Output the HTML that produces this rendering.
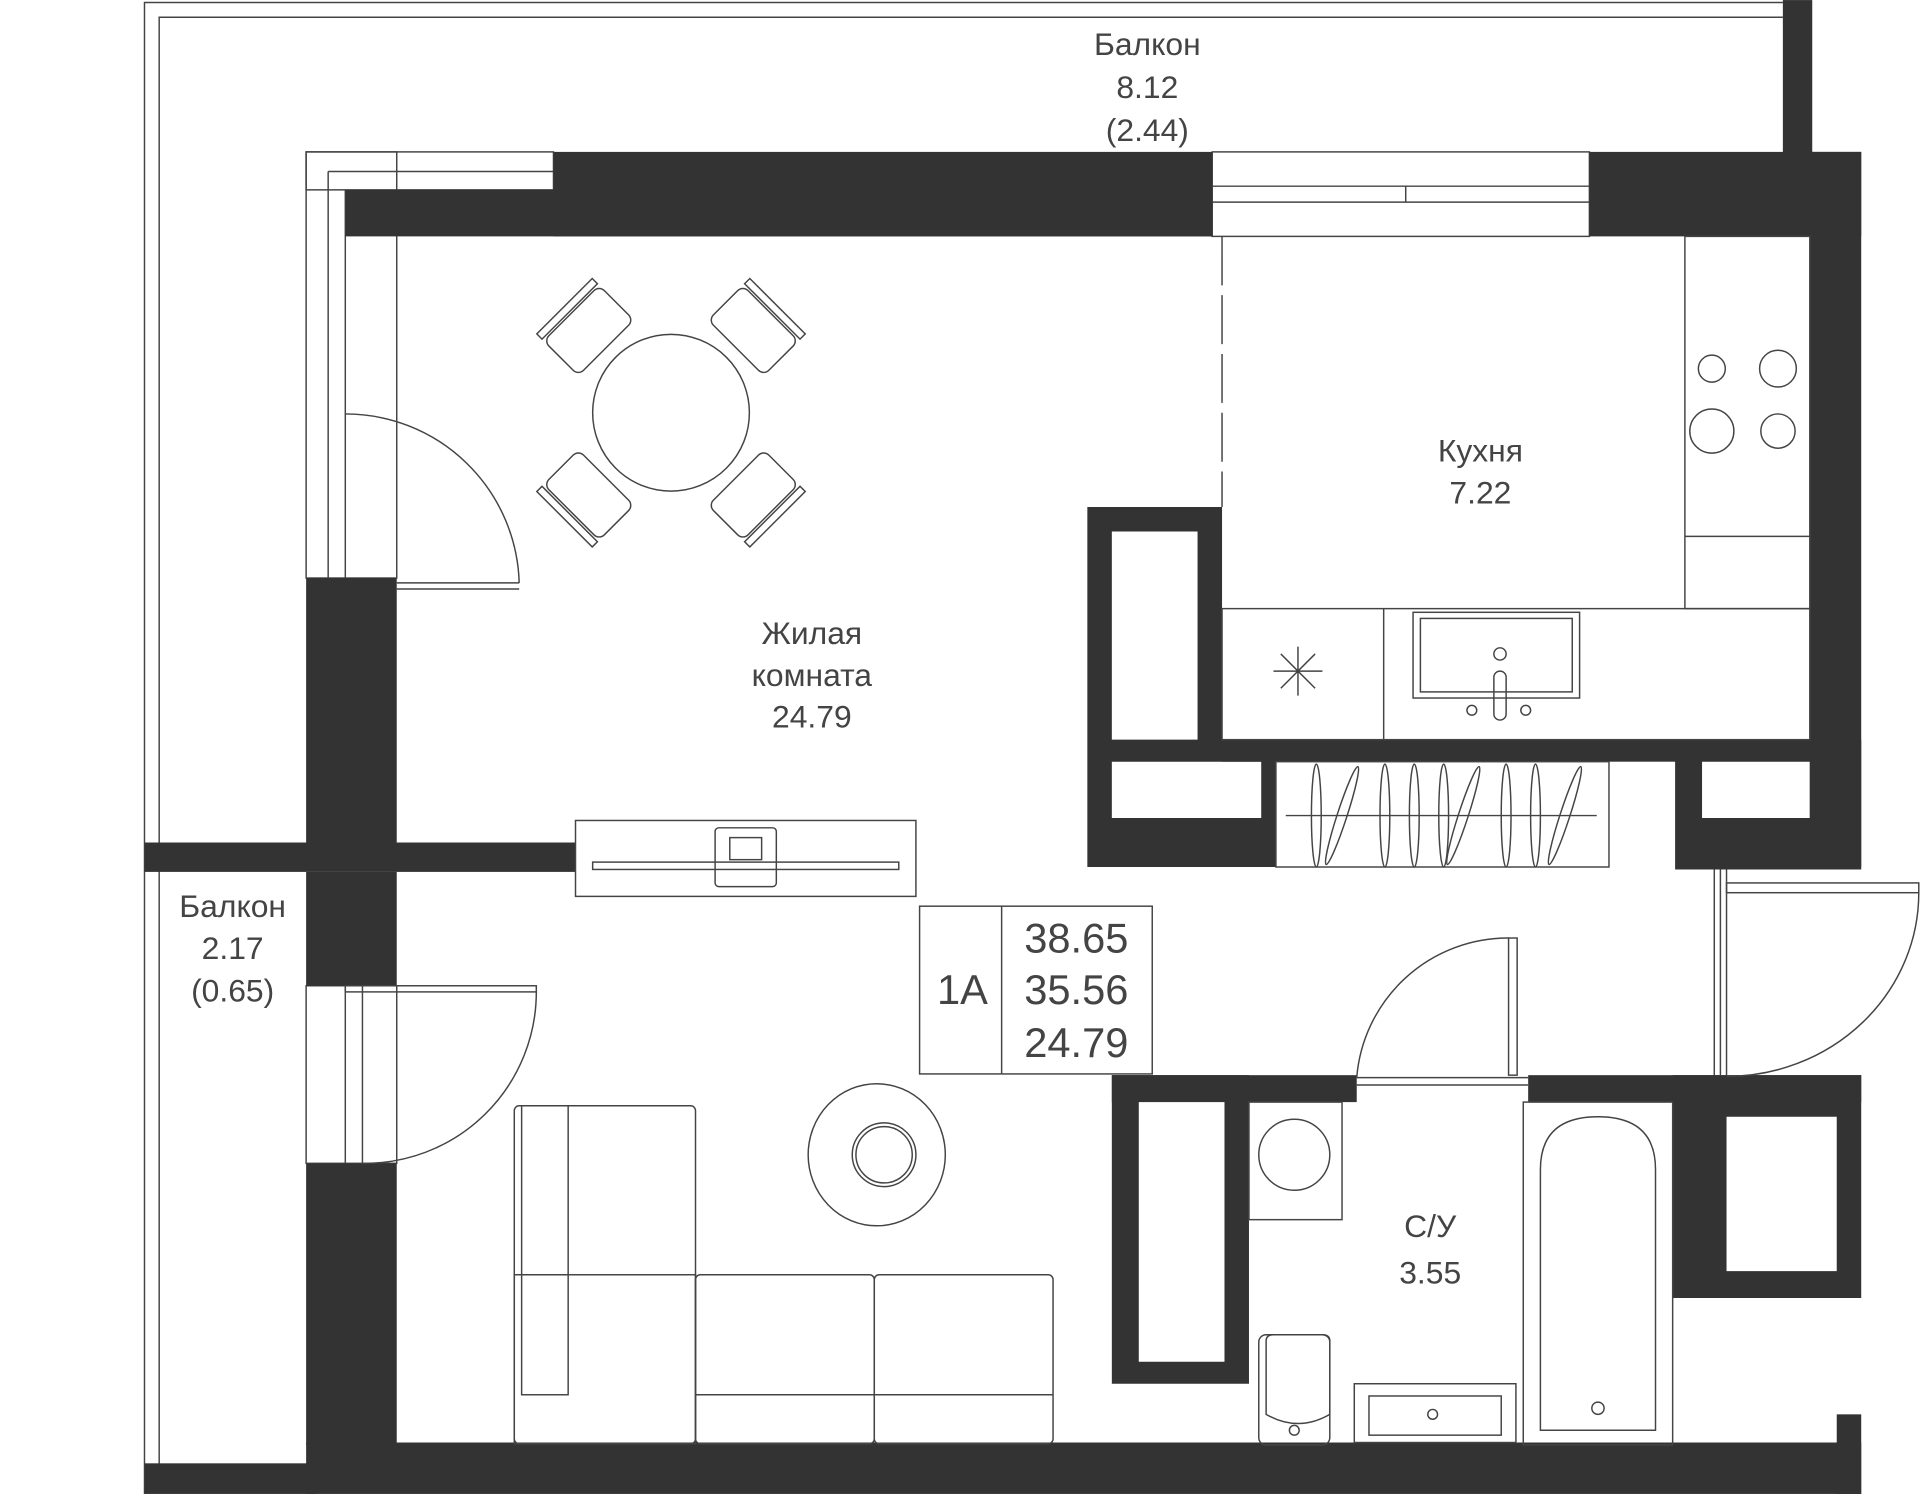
<!DOCTYPE html>
<html><head><meta charset="utf-8"><style>
html,body{margin:0;padding:0;background:#fff;}
svg{display:block;}
text{font-family:"Liberation Sans",sans-serif;fill:#444;}
</style></head><body>
<svg width="1920" height="1494" viewBox="0 0 1568 1220" xmlns="http://www.w3.org/2000/svg">
<g fill="none" stroke="#444" stroke-width="1.2">
<polyline points="118,1220 118,2 1456,2"/>
<polyline points="130,1200 130,14 1456,14"/>
<rect x="250" y="124" width="202" height="31"/>
<line x1="268" y1="140" x2="452" y2="140"/>
<rect x="250" y="124" width="74" height="348"/>
<line x1="268" y1="140" x2="268" y2="472"/>
<line x1="282" y1="155" x2="282" y2="472"/>
<rect x="990" y="124" width="308" height="69"/>
<line x1="990" y1="152" x2="1298" y2="152"/>
<line x1="990" y1="165" x2="1298" y2="165"/>
<line x1="1148" y1="152" x2="1148" y2="165"/>
<rect x="250" y="805" width="74" height="145"/>
<line x1="282" y1="805" x2="282" y2="950"/>
<line x1="296" y1="805" x2="296" y2="950"/>
</g>
<g fill="#333">
<rect x="1456" y="0" width="24" height="125"/>
<rect x="452" y="124" width="538" height="69"/>
<rect x="282" y="155" width="708" height="38"/>
<rect x="1298" y="124" width="222" height="69"/>
<rect x="1478" y="124" width="42" height="584"/>
<rect x="250" y="472" width="74" height="216"/>
<rect x="118" y="688" width="352" height="24"/>
<rect x="250" y="712" width="74" height="93"/>
<rect x="250" y="950" width="74" height="230"/>
<rect x="250" y="1178" width="1270" height="42"/>
<rect x="118" y="1195" width="140" height="25"/>
<path d="M888,414 H998 V604 H1042 V708 H888 Z M908,434 V604 H978 V434 Z M908,622 V668 H1030 V622 Z" fill-rule="evenodd"/>
<rect x="998" y="604" width="390" height="18"/>
<path d="M1368,604 H1520 V710 H1368 Z M1390,622 V668 H1478 V622 Z" fill-rule="evenodd"/>
<rect x="908" y="878" width="200" height="22"/>
<rect x="1248" y="878" width="272" height="22"/>
<path d="M908,878 H1020 V1130 H908 Z M930,898 V1112 H1000 V898 Z" fill-rule="evenodd"/>
<path d="M1366,878 H1520 V1060 H1366 Z M1410,912 V1038 H1500 V912 Z" fill-rule="evenodd"/>
<rect x="1500" y="1155" width="20" height="65"/>
</g>
<g fill="none" stroke="#444" stroke-width="1.2">
<line x1="998" y1="193" x2="998" y2="414" stroke-dasharray="40,8"/>
<rect x="998" y="497" width="480" height="107"/>
<line x1="1130" y1="497" x2="1130" y2="604"/>
<rect x="1154" y="500" width="136" height="70"/>
<rect x="1160" y="505" width="124" height="60"/>
<circle cx="1225" cy="534" r="5"/><rect x="1220" y="548" width="10" height="40" rx="5"/>
<circle cx="1202" cy="580" r="4"/><circle cx="1246" cy="580" r="4"/>
<path d="M1040,548 H1080 M1060,528 V568 M1046,534 L1074,562 M1074,534 L1046,562"/>
<rect x="1376" y="193" width="102" height="304"/>
<line x1="1376" y1="438" x2="1478" y2="438"/>
<circle cx="1398" cy="301" r="11"/><circle cx="1452" cy="301" r="15"/>
<circle cx="1398" cy="352" r="18"/><circle cx="1452" cy="352" r="14"/>
<rect x="1042" y="622" width="272" height="86"/>
<line x1="1050" y1="666" x2="1304" y2="666"/>
<g>
<ellipse cx="1075" cy="666" rx="4" ry="42"/><ellipse cx="1096" cy="666" rx="4" ry="42" transform="rotate(18 1096 666)"/>
<ellipse cx="1131" cy="666" rx="4" ry="42"/><ellipse cx="1155" cy="666" rx="4" ry="42"/><ellipse cx="1179" cy="666" rx="4" ry="42"/>
<ellipse cx="1195" cy="666" rx="4" ry="42" transform="rotate(18 1195 666)"/>
<ellipse cx="1230" cy="666" rx="4" ry="42"/><ellipse cx="1254" cy="666" rx="4" ry="42"/>
<ellipse cx="1278" cy="666" rx="4" ry="42" transform="rotate(18 1278 666)"/>
</g>
<rect x="470" y="670" width="278" height="62"/>
<rect x="484" y="704" width="250" height="6"/>
<rect x="584" y="676" width="50" height="48" rx="3"/>
<rect x="596" y="684" width="26" height="18"/>
<circle cx="548" cy="337" r="64"/>
<g transform="rotate(45 548 337)">
<rect x="516" y="222" width="64" height="40" rx="6"/><rect x="516" y="214" width="64" height="6"/>
<rect x="516" y="412" width="64" height="40" rx="6"/><rect x="516" y="454" width="64" height="6"/>
<rect x="433" y="305" width="40" height="64" rx="6"/><rect x="425" y="305" width="6" height="64"/>
<rect x="623" y="305" width="40" height="64" rx="6"/><rect x="665" y="305" width="6" height="64"/>
</g>
<line x1="324" y1="476" x2="424" y2="476"/><line x1="324" y1="481" x2="424" y2="481"/>
<path d="M282,338 A142,142 0 0 1 424,476"/>
<rect x="282" y="805" width="156" height="5"/>
<path d="M438,810 A140,140 0 0 1 296,950"/>
<rect x="1232" y="766" width="7" height="112"/>
<path d="M1232,766 A124,124 0 0 0 1108,880"/>
<line x1="1108" y1="880" x2="1248" y2="880"/><line x1="1108" y1="886" x2="1248" y2="886"/>
<line x1="1400" y1="710" x2="1400" y2="878"/><line x1="1405" y1="710" x2="1405" y2="878"/><line x1="1410" y1="710" x2="1410" y2="878"/>
<rect x="1410" y="721" width="157" height="8"/>
<path d="M1567,729 A157,150 0 0 1 1410,879"/>
<rect x="751" y="740" width="190" height="137"/>
<line x1="818" y1="740" x2="818" y2="877"/>
<rect x="420" y="903" width="148" height="276" rx="4"/>
<rect x="426" y="903" width="38" height="138"/>
<rect x="420" y="1041" width="148" height="138"/>
<rect x="426" y="1041" width="38" height="98"/>
<rect x="568" y="1041" width="146" height="138" rx="4"/>
<rect x="714" y="1041" width="146" height="138" rx="4"/>
<line x1="568" y1="1139" x2="860" y2="1139"/>
<ellipse cx="716" cy="943" rx="56" ry="58"/>
<circle cx="722" cy="943" r="26"/><circle cx="722" cy="943" r="23"/>
<rect x="1020" y="900" width="76" height="96"/>
<circle cx="1057" cy="943" r="29"/>
<rect x="1244" y="900" width="122" height="280"/>
<path d="M1258,1168 V955 Q1258,912 1305,912 Q1352,912 1352,955 V1168 Z"/>
<circle cx="1305" cy="1150" r="5"/>
<rect x="1106" y="1130" width="132" height="48"/>
<rect x="1118" y="1140" width="108" height="32"/>
<circle cx="1170" cy="1155" r="4"/>
<path d="M1034,1095 Q1034,1090 1040,1090 H1080 Q1086,1090 1086,1095 V1155 Q1060,1170 1034,1155 Z"/>
<rect x="1028" y="1090" width="58" height="90" rx="6"/>
<circle cx="1057" cy="1168" r="4"/>
</g>
<g font-size="26" text-anchor="middle">
<text x="937" y="45">Балкон</text>
<text x="937" y="80">8.12</text>
<text x="937" y="115">(2.44)</text>
<text x="1209" y="377">Кухня</text>
<text x="1209" y="411">7.22</text>
<text x="663" y="526">Жилая</text>
<text x="663" y="560">комната</text>
<text x="663" y="594">24.79</text>
<text x="190" y="749">Балкон</text>
<text x="190" y="783">2.17</text>
<text x="190" y="818">(0.65)</text>
<text x="1168" y="1010">С/У</text>
<text x="1168" y="1048">3.55</text>
</g>
<g font-size="34" text-anchor="middle">
<text x="786" y="820">1A</text>
<text x="879" y="778">38.65</text>
<text x="879" y="820">35.56</text>
<text x="879" y="863">24.79</text>
</g>
</svg>
</body></html>
